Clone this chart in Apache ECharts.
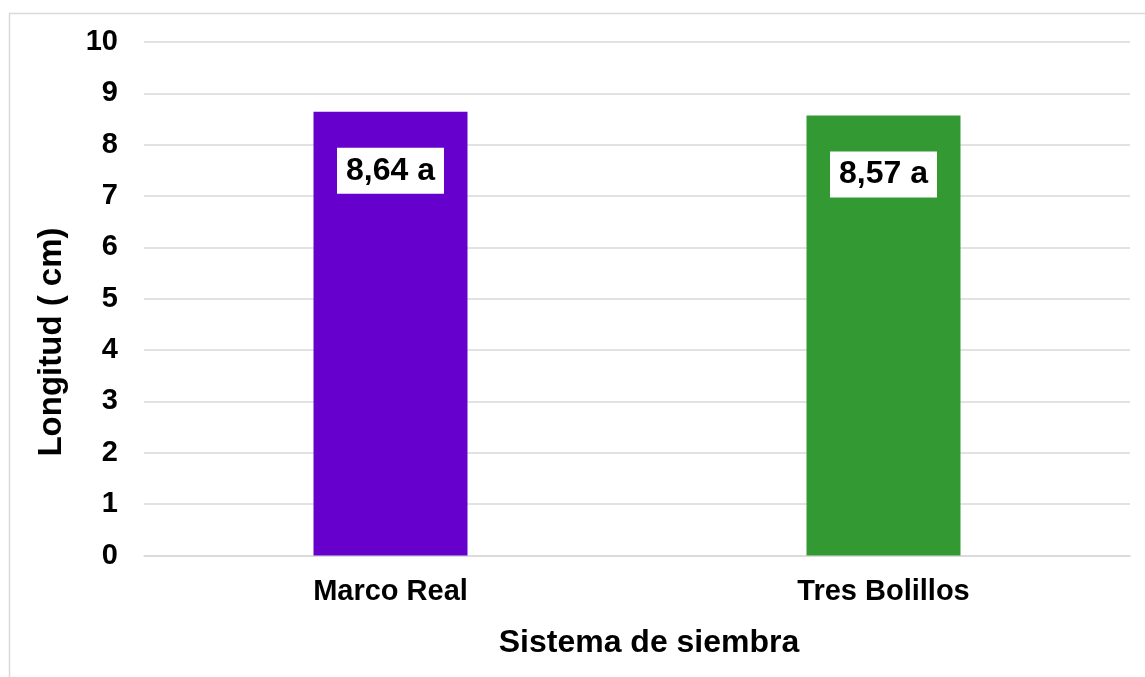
<!DOCTYPE html>
<html>
<head>
<meta charset="utf-8">
<script src="https://cdn.jsdelivr.net/npm/echarts@6/dist/echarts.min.js"></script>
<style>
html,body{margin:0;padding:0;background:#fff;}
#chart{width:1145px;height:677px;}
</style>
</head>
<body>
<div id="chart"></div>
<script>
const categories = ['Marco Real', 'Tres Bolillos'];
const values = [8.64, 8.57];
const labels = ['8,64 a', '8,57 a'];
const barColors = ['#6600CC', '#339933'];
const xTitle = 'Sistema de siembra';
const yTitle = 'Longitud ( cm)';

const FONT = '"Liberation Sans", Arial, sans-serif';
const chart = echarts.init(document.getElementById('chart'));
chart.setOption({
  animation: false,
  backgroundColor: '#ffffff',
  grid: { left: 144, right: 15, top: 42, bottom: 121.5, containLabel: false },
  xAxis: {
    type: 'category',
    data: categories,
    axisLine: { show: true, lineStyle: { color: '#d9d9d9', width: 1.5 } },
    axisTick: { show: false },
    axisLabel: { margin: 22, color: '#000', fontSize: 29, fontWeight: 'bold', fontFamily: FONT }
  },
  yAxis: {
    type: 'value',
    min: 0, max: 10, interval: 1,
    axisLine: { show: false },
    axisTick: { show: false },
    splitLine: { show: true, lineStyle: { color: '#d9d9d9', width: 1.5 } },
    axisLabel: { margin: 26, color: '#000', fontSize: 29, fontWeight: 'bold', fontFamily: FONT }
  },
  series: [{
    type: 'bar',
    barWidth: 154,
    data: values.map((v, i) => ({ value: v, itemStyle: { color: barColors[i] } })),
    label: {
      show: true,
      position: 'insideTop',
      distance: 36,
      formatter: p => labels[p.dataIndex],
      color: '#000',
      fontSize: 32,
      fontWeight: 'bold',
      fontFamily: FONT,
      backgroundColor: '#ffffff',
      lineHeight: 32,
      padding: [7, 9, 7, 9]
    }
  }],
  graphic: [
    { type: 'rect', left: 7, top: 11, shape: { width: 1200, height: 700 }, style: { fill: 'none', stroke: '#d9d9d9', lineWidth: 1.5 }, silent: true, z: -1 },
    { type: 'text', x: 649, y: 643, style: { text: xTitle, fill: '#000', font: 'bold 32px ' + FONT, textAlign: 'center', textVerticalAlign: 'middle' } },
    { type: 'text', x: 52, y: 342, rotation: Math.PI / 2, style: { text: yTitle, fill: '#000', font: 'bold 33px ' + FONT, textAlign: 'center', textVerticalAlign: 'middle' } }
  ]
});
</script>
</body>
</html>
